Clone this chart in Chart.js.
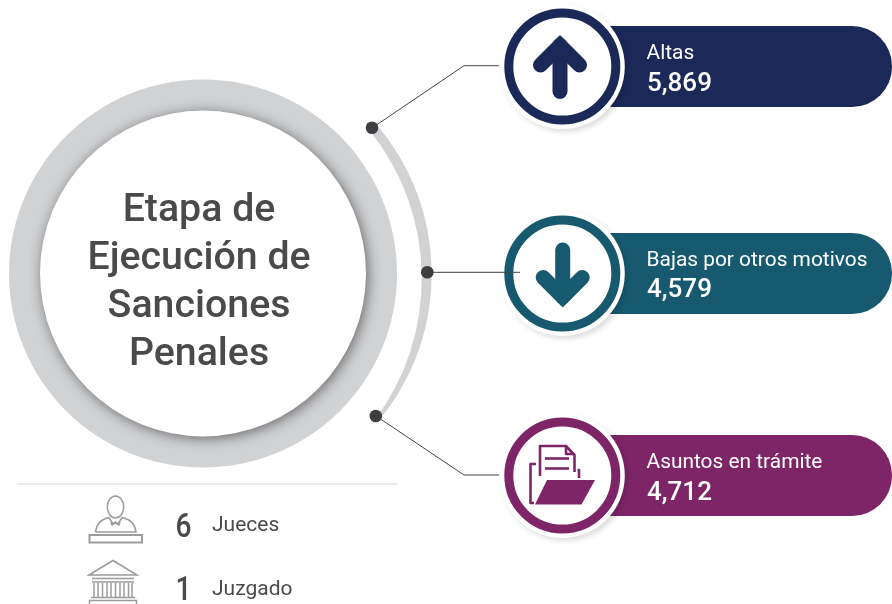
<!DOCTYPE html>
<html>
<head>
<meta charset="utf-8">
<title>Etapa de Ejecución de Sanciones Penales</title>
<script src="https://cdn.jsdelivr.net/npm/chart.js@4"></script>
<style>
    html, body { margin: 0; padding: 0; background: #fff; }
    canvas { display: block; }
</style>
</head>
<body>
<canvas id="chart" width="892" height="604"></canvas>
<script>
const categories = ['Altas', 'Bajas por otros motivos', 'Asuntos en trámite'];
const values = [5869, 4579, 4712];
const titleLines = ['Etapa de', 'Ejecución de', 'Sanciones', 'Penales'];
const staffLabels = ['Jueces', 'Juzgado'];
const staffValues = [6, 1];

const colors = ['#1b2959', '#175a70', '#7e2568'];
const ringGrey = '#d1d2d4';
const darkText = '#4a4a4c';
const iconGrey = '#9b9b9b';

// rows are not evenly spaced in the picture
const rowPos = [0, 1.0122, 2];
const medalX = [562.3, 562.3, 562.3];

function arcThrough(ctx, a, m, b, ccw) {
    const sa = a[0] * a[0] + a[1] * a[1];
    const sm = m[0] * m[0] + m[1] * m[1];
    const sb = b[0] * b[0] + b[1] * b[1];
    const d = 2 * (a[0] * (m[1] - b[1]) + m[0] * (b[1] - a[1]) + b[0] * (a[1] - m[1]));
    const ux = (sa * (m[1] - b[1]) + sm * (b[1] - a[1]) + sb * (a[1] - m[1])) / d;
    const uy = (sa * (b[0] - m[0]) + sm * (a[0] - b[0]) + sb * (m[0] - a[0])) / d;
    const r = Math.hypot(a[0] - ux, a[1] - uy);
    ctx.arc(ux, uy, r, Math.atan2(a[1] - uy, a[0] - ux), Math.atan2(b[1] - uy, b[0] - ux), ccw);
}

function polyline(ctx, pts, close) {
    ctx.beginPath();
    pts.forEach((p, i) => i ? ctx.lineTo(p[0], p[1]) : ctx.moveTo(p[0], p[1]));
    if (close) ctx.closePath();
}

function drawLinks(ctx) {
    ctx.fillStyle = ringGrey;
    ctx.beginPath();
    arcThrough(ctx, [376, 124], [431.7, 272.5], [380, 419], false);
    arcThrough(ctx, [374, 421], [421.7, 272.5], [370, 131], true);
    ctx.closePath();
    ctx.fill();

    ctx.strokeStyle = '#444446';
    ctx.lineWidth = 1;
    polyline(ctx, [[372, 128], [464, 65.7], [499, 65.7]]);
    ctx.stroke();
    polyline(ctx, [[427, 272.3], [520, 272.3]]);
    ctx.stroke();
    polyline(ctx, [[376, 416], [464, 475], [499, 475]]);
    ctx.stroke();

    ctx.fillStyle = '#3f3f41';
    [[372, 127.8], [427.3, 272.3], [375.8, 416]].forEach(p => {
        ctx.beginPath();
        ctx.arc(p[0], p[1], 6.3, 0, Math.PI * 2);
        ctx.fill();
    });
}

function drawArrows(ctx) {
    ctx.lineWidth = 15;
    ctx.lineCap = 'round';
    ctx.lineJoin = 'miter';

    ctx.strokeStyle = colors[0];
    polyline(ctx, [[540.5, 65], [560, 45.6], [579.5, 65]]);
    ctx.stroke();
    polyline(ctx, [[560, 45.6], [560, 91.5]]);
    ctx.stroke();

    ctx.strokeStyle = colors[1];
    polyline(ctx, [[543.2, 277.5], [562.7, 297], [582.2, 277.5]]);
    ctx.stroke();
    polyline(ctx, [[562.7, 250], [562.7, 297]]);
    ctx.stroke();
    ctx.lineCap = 'butt';
}

function drawFolder(ctx) {
    ctx.strokeStyle = colors[2];
    ctx.fillStyle = colors[2];
    ctx.lineWidth = 2.6;
    ctx.lineJoin = 'round';
    // sheet
    polyline(ctx, [[540, 476], [540, 446], [566, 446], [574.5, 455], [574.5, 472]]);
    ctx.stroke();
    polyline(ctx, [[566, 446], [566, 454], [574, 454]]);
    ctx.stroke();
    polyline(ctx, [[545, 458.5], [569, 458.5]]);
    ctx.stroke();
    polyline(ctx, [[545, 468.5], [569, 468.5]]);
    ctx.stroke();
    // back of the folder
    polyline(ctx, [[536, 464], [530.5, 464], [530.5, 503], [534, 503]]);
    ctx.stroke();
    polyline(ctx, [[577.5, 470], [579, 470], [579, 478]]);
    ctx.stroke();
    // front of the folder
    polyline(ctx, [[547, 480], [595, 480], [581.5, 504.5], [535, 504.5]], true);
    ctx.fill();
}

function drawStaffIcons(ctx) {
    ctx.strokeStyle = iconGrey;
    ctx.lineWidth = 1.5;
    ctx.lineJoin = 'miter';

    // judge
    ctx.beginPath();
    ctx.ellipse(115.5, 507, 8.2, 11, 0, 0, Math.PI * 2);
    ctx.stroke();
    ctx.beginPath();
    ctx.moveTo(95.5, 532);
    ctx.quadraticCurveTo(97, 520, 109, 517.5);
    ctx.moveTo(122, 517.5);
    ctx.quadraticCurveTo(134.5, 520, 136, 532);
    ctx.lineTo(95.5, 532);
    ctx.stroke();
    polyline(ctx, [[109, 517.5], [113, 524], [115.5, 522], [118, 524], [122, 517.5]]);
    ctx.stroke();
    polyline(ctx, [[111, 522], [112, 525], [115.5, 523], [119, 525], [120, 522]]);
    ctx.stroke();
    ctx.lineWidth = 2;
    ctx.strokeRect(89.5, 535, 52.5, 7.5);

    // courthouse
    ctx.lineWidth = 1.5;
    polyline(ctx, [[89, 575], [113, 560.5], [137, 575]], true);
    ctx.stroke();
    polyline(ctx, [[92, 578.5], [134, 578.5]]);
    ctx.stroke();
    polyline(ctx, [[92, 582], [134, 582]]);
    ctx.stroke();
    [94, 98, 102.5, 107, 111, 115.5, 120, 124, 128.5, 132].forEach(x => {
        polyline(ctx, [[x, 583], [x, 597]]);
        ctx.stroke();
    });
    polyline(ctx, [[91, 597.5], [135, 597.5]]);
    ctx.stroke();
    ctx.strokeRect(89.5, 600.5, 47, 5);
}

function drawTexts(chart) {
    const ctx = chart.ctx;
    const y = chart.scales.y;
    ctx.textBaseline = 'alphabetic';

    // title inside the ring
    ctx.fillStyle = darkText;
    ctx.textAlign = 'center';
    ctx.font = '500 39.3px Roboto';
    titleLines.forEach((line, i) => ctx.fillText(line, 199, 221 + i * 48));

    // labels on the pills
    ctx.textAlign = 'left';
    ctx.fillStyle = '#fff';
    categories.forEach((name, i) => {
        const cy = y.getPixelForValue(rowPos[i]);
        ctx.font = '400 20.9px Roboto';
        ctx.fillText(name, 646.5, cy - 7.5);
        ctx.font = '500 26px Roboto';
        ctx.fillText(values[i].toLocaleString('en-US'), 647, cy + 24);
    });

    // rule and staff rows
    ctx.strokeStyle = '#d9d9d9';
    ctx.lineWidth = 1;
    polyline(ctx, [[17, 484], [398, 484]]);
    ctx.stroke();
    staffLabels.forEach((name, i) => {
        ctx.fillStyle = darkText;
        ctx.font = '500 33px Roboto';
        // digits are narrower in the picture, so squeeze them
        ctx.fillText(String(staffValues[i]), 175.5, 537 + i * 63, 16);
        ctx.font = '400 21px Roboto';
        ctx.fillText(name, 212, 531 + i * 64);
    });
}

const decorPlugin = {
    id: 'decor',
    beforeDatasetDraw(chart, args) {
        const shadow = chart.data.datasets[args.index].shadow;
        if (!shadow) return;
        const ctx = chart.ctx;
        ctx.save();
        ctx.shadowColor = shadow.color;
        ctx.shadowBlur = shadow.blur;
        ctx.shadowOffsetX = shadow.dx;
        ctx.shadowOffsetY = shadow.dy;
    },
    afterDatasetDraw(chart, args) {
        if (chart.data.datasets[args.index].shadow) chart.ctx.restore();
    },
    afterDatasetsDraw(chart) {
        const ctx = chart.ctx;
        ctx.save();
        drawLinks(ctx);
        drawArrows(ctx);
        drawFolder(ctx);
        drawStaffIcons(ctx);
        drawTexts(chart);
        ctx.restore();
    }
};

new Chart(document.getElementById('chart'), {
    type: 'bar',
    plugins: [decorPlugin],
    data: {
        datasets: [
            {
                // the pills all have the same length, the value is only printed
                type: 'bar',
                data: categories.map((c, i) => ({ x: [560, 892], y: rowPos[i] })),
                backgroundColor: colors,
                barThickness: 81,
                borderRadius: { topRight: 40, bottomRight: 40, topLeft: 0, bottomLeft: 0 },
                borderSkipped: false,
                inflateAmount: 0,
                clip: false,
                order: 6
            },
            {
                type: 'bubble',
                data: categories.map((c, i) => ({ x: medalX[i], y: rowPos[i], r: 62.5 })),
                backgroundColor: '#fff',
                borderWidth: 0,
                clip: false,
                shadow: { color: 'rgba(0,0,0,0.13)', blur: 5, dx: 3, dy: 3 },
                order: 5
            },
            {
                type: 'bubble',
                data: categories.map((c, i) => ({ x: medalX[i], y: rowPos[i], r: 53.5 })),
                backgroundColor: '#fff',
                borderColor: colors,
                borderWidth: 9,
                clip: false,
                order: 4
            },
            {
                type: 'bubble',
                data: [{ x: 203, y: rowPos[1], r: 194 }],
                backgroundColor: ringGrey,
                borderWidth: 0,
                clip: false,
                order: 3
            },
            {
                type: 'bubble',
                data: [{ x: 203, y: rowPos[1], r: 163 }],
                backgroundColor: '#fff',
                borderWidth: 0,
                clip: false,
                shadow: { color: 'rgba(40,40,40,0.62)', blur: 13, dx: 2, dy: 2 },
                order: 2
            }
        ]
    },
    options: {
        indexAxis: 'y',
        responsive: false,
        animation: false,
        layout: { autoPadding: false, padding: { top: 66.5, bottom: 128.5, left: 0, right: 0 } },
        plugins: {
            legend: { display: false },
            tooltip: { enabled: false }
        },
        scales: {
            x: { type: 'linear', min: 0, max: 892, offset: false, display: false },
            y: { type: 'linear', min: 0, max: 2, reverse: true, offset: false, display: false }
        }
    }
});
</script>
</body>
</html>
